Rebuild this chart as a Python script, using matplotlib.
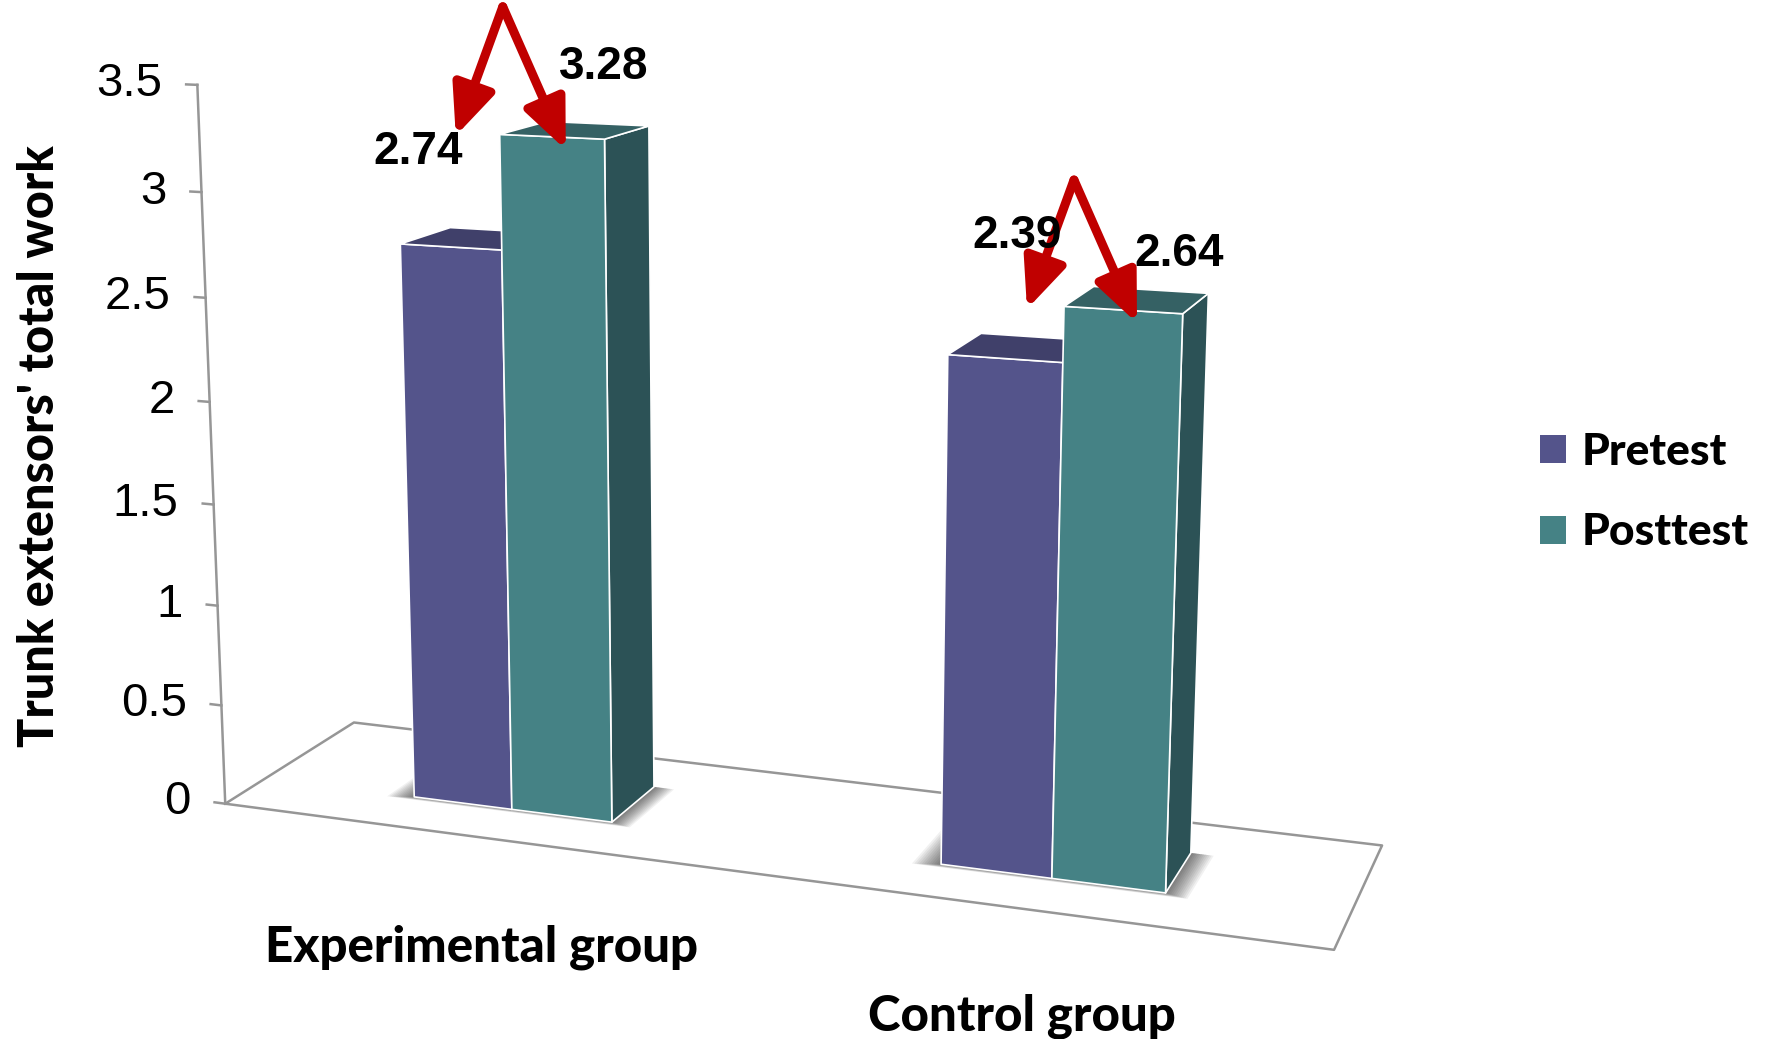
import matplotlib
matplotlib.use("Agg")
import matplotlib.pyplot as plt
import numpy as np
from matplotlib.patches import Patch
from matplotlib.transforms import offset_copy
from mpl_toolkits.mplot3d import proj3d
from mpl_toolkits.mplot3d.art3d import Poly3DCollection

groups = ["Experimental group", "Control group"]
series = ["Pretest", "Posttest"]
pretest = [2.74, 2.39]
posttest = [3.28, 2.64]
yticks = [0, 0.5, 1, 1.5, 2, 2.5, 3, 3.5]
ylabel = "Trunk extensors' total work"

# face colours per series: front, top, side
PRE_COLORS = ("#54548b", "#40406a", "#3a3a60")
POST_COLORS = ("#458285", "#356164", "#2c5256")
RED = "#c00000"
GREY = "#969696"

NUM_FONT = ["Liberation Sans", "DejaVu Sans"]
LBL_FONT = ["Lato", "DejaVu Sans"]

# scene layout (data units: one category = 1)
BAR_W, BAR_D, BAR_Y0 = 0.195, 0.2, 0.15
FLOOR_X, FLOOR_Y = (-0.5, 1.5), (0.0, 0.5)
TICK = 0.022

# camera
ELEV, AZIM, FOCAL = 12, -70, 0.537
XLIM, YLIM, ZLIM = (-0.58, 1.62), (-0.5725, 0.6275), (-0.101, 4.499)
BOX = np.array([2.376, 1.296, 1.847])

W, H = 1769, 1039
fig = plt.figure(figsize=(W / 100, H / 100), dpi=100)
ax = fig.add_axes([226.5 / W, 106.5 / H, H / W, 1.0], projection="3d",
                  computed_zorder=False)
ax.set_proj_type("persp", focal_length=FOCAL)
ax.view_init(elev=ELEV, azim=AZIM)
ax.set_xlim(*XLIM)
ax.set_ylim(*YLIM)
ax.set_zlim(*ZLIM)
# zoom undoes the internal normalisation so the box keeps these lengths
ax.set_box_aspect(BOX, zoom=np.linalg.norm(BOX) / 1.90569)
ax.set_axis_off()


def screen(x, y, z):
    px, py, _ = proj3d.proj_transform(x, y, z, ax.get_proj())
    return float(px), float(py)


def box_faces(x0, y0, w, d, h):
    x1, y1 = x0 + w, y0 + d
    front = [(x0, y0, 0), (x1, y0, 0), (x1, y0, h), (x0, y0, h)]
    top = [(x0, y0, h), (x1, y0, h), (x1, y1, h), (x0, y1, h)]
    side = [(x1, y0, 0), (x1, y1, 0), (x1, y1, h), (x1, y0, h)]
    return [front, top, side]


# floor outline and value axis
fx = [FLOOR_X[0], FLOOR_X[1], FLOOR_X[1], FLOOR_X[0], FLOOR_X[0]]
fy = [FLOOR_Y[0], FLOOR_Y[0], FLOOR_Y[1], FLOOR_Y[1], FLOOR_Y[0]]
ax.plot(fx, fy, [0] * 5, color=GREY, lw=1.8, zorder=1, clip_on=False)
x0 = FLOOR_X[0]
ax.plot([x0, x0], [0, 0], [0, yticks[-1]], color=GREY, lw=1.8, zorder=1,
        clip_on=False)
for v in yticks:
    ax.plot([x0 - TICK, x0], [0, 0], [v, v], color=GREY, lw=1.8, zorder=1,
            clip_on=False)
    ax.annotate(f"{v:g}", xy=screen(x0 - TICK, 0, v), xytext=(-24, 0),
                textcoords="offset pixels", ha="right", va="center",
                fontsize=34, family=NUM_FONT, annotation_clip=False)

# soft shadow round the foot of each pair of bars
for i in range(len(groups)):
    for grow in np.linspace(0.04, 0.003, 12):
        xa, xb = i - BAR_W - grow * 1.2, i + BAR_W + grow
        ya, yb = BAR_Y0 - grow * 0.35, BAR_Y0 + BAR_D
        foot = [[(xa, ya, 0), (xb, ya, 0), (xb, yb, 0), (xa, yb, 0)]]
        ax.add_collection3d(Poly3DCollection(foot, facecolors="black",
                                             edgecolors="none", alpha=0.055,
                                             zorder=2, clip_on=False))

# bars
z = 3
for i in range(len(groups)):
    for vals, cols, dx in [(pretest, PRE_COLORS, -BAR_W),
                           (posttest, POST_COLORS, 0.0)]:
        pc = Poly3DCollection(box_faces(i + dx, BAR_Y0, BAR_W, BAR_D, vals[i]),
                              facecolors=cols, edgecolors="white",
                              linewidths=1.2, zorder=z, clip_on=False)
        ax.add_collection3d(pc)
        z += 1

# value labels and red arrows, placed relative to the bar tops
PRE_LABEL_OFFSET = [(-134, -15), (-106, 74)]
POST_LABEL_OFFSET = [(52, 70), (56, 56)]
APEX, LEFT_TIP, RIGHT_TIP = (-49, 130), (-96, 1), (14, -13)


def arrow(anchor, tail, tip):
    tr = offset_copy(ax.transData, fig=fig, x=tip[0], y=tip[1], units="dots")
    ax.annotate("", xy=anchor, xycoords=tr,
                xytext=(tail[0] - tip[0], tail[1] - tip[1]),
                textcoords="offset pixels", zorder=10, annotation_clip=False,
                arrowprops=dict(arrowstyle="-|>,head_length=1.5,head_width=0.65",
                                color=RED, lw=6.5, mutation_scale=20,
                                shrinkA=0, shrinkB=0))


for i in range(len(groups)):
    post_top = screen(i + BAR_W / 2, BAR_Y0, posttest[i])
    arrow(post_top, APEX, LEFT_TIP)
    arrow(post_top, APEX, RIGHT_TIP)
    ax.annotate(f"{pretest[i]:.2f}", xy=post_top, xytext=PRE_LABEL_OFFSET[i],
                textcoords="offset pixels", ha="center", va="center",
                fontsize=33, fontweight="bold", family=NUM_FONT, zorder=11,
                annotation_clip=False)
    ax.annotate(f"{posttest[i]:.2f}", xy=post_top, xytext=POST_LABEL_OFFSET[i],
                textcoords="offset pixels", ha="center", va="center",
                fontsize=33, fontweight="bold", family=NUM_FONT, zorder=11,
                annotation_clip=False)
    foot = screen(i, BAR_Y0, 0)
    ax.annotate(groups[i], xy=foot, xytext=(-30, -138),
                textcoords="offset pixels", ha="center", va="center",
                fontsize=35.5, fontweight="black", family=LBL_FONT,
                annotation_clip=False)

fig.text(40 / W, 1 - 446 / H, ylabel, rotation=90, ha="center", va="center",
         fontsize=35, fontweight="black", family=LBL_FONT)

handles = [Patch(facecolor=PRE_COLORS[0]), Patch(facecolor=POST_COLORS[0])]
fig.legend(handles, series, loc="center left", bbox_to_anchor=(1540 / W, 1 - 492 / H),
           frameon=False, handlelength=0.58, handleheight=0.58, handletextpad=0.35,
           labelspacing=0.92, borderpad=0, borderaxespad=0,
           prop=dict(family=LBL_FONT, weight="black", size=32))

fig.savefig("out.png", dpi=100)
